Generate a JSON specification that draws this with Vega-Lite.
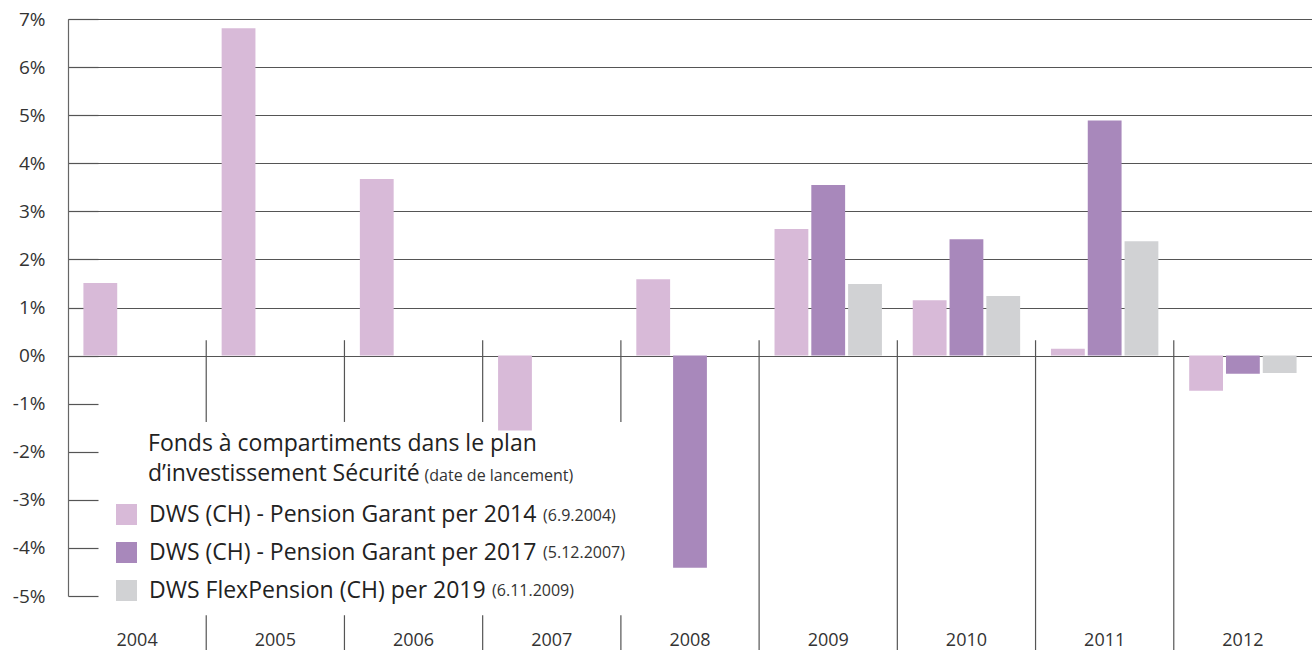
{
  "$schema": "https://vega.github.io/schema/vega-lite/v6.json",
  "width": 1244,
  "height": 577,
  "autosize": "none",
  "padding": {"left": 68, "top": 19, "right": 0, "bottom": 54},
  "background": "white",
  "config": {"view": {"stroke": null}, "font": "Open Sans"},
  "datasets": {
    "returns": [
      {"year": "2004", "series": "DWS (CH) - Pension Garant per 2014", "value": 1.51},
      {"year": "2005", "series": "DWS (CH) - Pension Garant per 2014", "value": 6.81},
      {"year": "2006", "series": "DWS (CH) - Pension Garant per 2014", "value": 3.67},
      {"year": "2007", "series": "DWS (CH) - Pension Garant per 2014", "value": -1.56},
      {"year": "2008", "series": "DWS (CH) - Pension Garant per 2014", "value": 1.59},
      {"year": "2008", "series": "DWS (CH) - Pension Garant per 2017", "value": -4.41},
      {"year": "2009", "series": "DWS (CH) - Pension Garant per 2014", "value": 2.63},
      {"year": "2009", "series": "DWS (CH) - Pension Garant per 2017", "value": 3.55},
      {"year": "2009", "series": "DWS FlexPension (CH) per 2019", "value": 1.49},
      {"year": "2010", "series": "DWS (CH) - Pension Garant per 2014", "value": 1.15},
      {"year": "2010", "series": "DWS (CH) - Pension Garant per 2017", "value": 2.42},
      {"year": "2010", "series": "DWS FlexPension (CH) per 2019", "value": 1.24},
      {"year": "2011", "series": "DWS (CH) - Pension Garant per 2014", "value": 0.14},
      {"year": "2011", "series": "DWS (CH) - Pension Garant per 2017", "value": 4.89},
      {"year": "2011", "series": "DWS FlexPension (CH) per 2019", "value": 2.38},
      {"year": "2012", "series": "DWS (CH) - Pension Garant per 2014", "value": -0.73},
      {"year": "2012", "series": "DWS (CH) - Pension Garant per 2017", "value": -0.38},
      {"year": "2012", "series": "DWS FlexPension (CH) per 2019", "value": -0.36}
    ],
    "bounds": [
      {"year": "2005", "side": "left"},
      {"year": "2006", "side": "left"},
      {"year": "2007", "side": "left"},
      {"year": "2008", "side": "left"},
      {"year": "2009", "side": "right"},
      {"year": "2010", "side": "right"},
      {"year": "2011", "side": "right"},
      {"year": "2012", "side": "right"}
    ],
    "notes": [
      {"id": "t1", "label": "Fonds à compartiments dans le plan"},
      {"id": "t2", "label": "d’investissement Sécurité"},
      {"id": "t3", "label": "(date de lancement)"},
      {"id": "d1", "label": "(6.9.2004)"},
      {"id": "d2", "label": "(5.12.2007)"},
      {"id": "d3", "label": "(6.11.2009)"}
    ]
  },
  "layer": [
    {
      "data": {"name": "returns"},
      "mark": {"type": "bar"},
      "encoding": {
        "x": {
          "field": "year",
          "type": "nominal",
          "scale": {"domain": ["2004","2005","2006","2007","2008","2009","2010","2011","2012"], "paddingInner": 0, "paddingOuter": 0},
          "axis": {"title": null, "labelAngle": 0, "domain": false, "ticks": false, "labelPadding": 35, "labelFontSize": 18, "labelColor": "#333", "labelFont": "Open Sans"}
        },
        "xOffset": {
          "field": "series",
          "type": "nominal",
          "scale": {"domain": ["DWS (CH) - Pension Garant per 2014", "DWS (CH) - Pension Garant per 2017", "DWS FlexPension (CH) per 2019"], "paddingInner": 0.081, "paddingOuter": 0.419}
        },
        "y": {
          "field": "value",
          "type": "quantitative",
          "scale": {"domain": [-5, 7], "nice": false},
          "axis": {
            "title": null,
            "values": [-5, -4, -3, -2, -1, 0, 1, 2, 3, 4, 5, 6, 7],
            "labelExpr": "datum.value + '%'",
            "tickSize": -30,
            "tickColor": "#555",
            "tickWidth": 1.2,
            "domainColor": "#666",
            "domainWidth": 1.2,
            "grid": true,
            "gridColor": "#555",
            "gridWidth": 1.2,
            "gridOpacity": {"condition": {"test": "datum.value < 0", "value": 0}, "value": 1},
            "labelFontSize": 19,
            "labelColor": "#333",
            "labelPadding": 53,
            "labelFont": "Open Sans"
          }
        },
        "color": {
          "field": "series",
          "type": "nominal",
          "scale": {"domain": ["DWS (CH) - Pension Garant per 2014", "DWS (CH) - Pension Garant per 2017", "DWS FlexPension (CH) per 2019"], "range": ["#d8bad8", "#a888bb", "#d1d2d4"]},
          "legend": {
            "title": null,
            "orient": "none",
            "legendX": 47,
            "legendY": 484,
            "padding": 0,
            "symbolType": "square",
            "symbolSize": 441,
            "symbolStrokeWidth": 0,
            "symbolOpacity": 1,
            "labelFontSize": 23,
            "labelFont": "Open Sans",
            "labelColor": "#222",
            "labelOffset": 11,
            "labelLimit": 700,
            "rowPadding": 14
          }
        }
      }
    },
    {
      "data": {"name": "bounds"},
      "transform": [{"filter": "datum.side == 'right'"}],
      "mark": {"type": "rule", "color": "#555", "strokeWidth": 1.2},
      "encoding": {
        "x": {"field": "year", "type": "nominal", "bandPosition": 0},
        "y": {"datum": 0.32},
        "y2": {"datum": -6.3}
      }
    },
    {
      "data": {"name": "bounds"},
      "transform": [{"filter": "datum.side == 'left'"}],
      "mark": {"type": "rule", "color": "#555", "strokeWidth": 1.2},
      "encoding": {
        "x": {"field": "year", "type": "nominal", "bandPosition": 0},
        "y": {"datum": 0.32},
        "y2": {"datum": -1.38}
      }
    },
    {
      "data": {"name": "bounds"},
      "transform": [{"filter": "datum.side == 'left'"}],
      "mark": {"type": "rule", "color": "#555", "strokeWidth": 1.2},
      "encoding": {
        "x": {"field": "year", "type": "nominal", "bandPosition": 0},
        "y": {"datum": -5.4},
        "y2": {"datum": -6.3}
      }
    },
    {
      "mark": {"type": "rule", "color": "#222", "strokeWidth": 2},
      "encoding": {"y": {"datum": 0}}
    },
    {
      "data": {"name": "notes"},
      "transform": [{"filter": "datum.id == 't1'"}],
      "mark": {"type": "text", "align": "left", "baseline": "alphabetic", "fontSize": 23, "font": "Open Sans", "color": "#222"},
      "encoding": {
        "x": {"datum": "2004", "bandPosition": 0.579},
        "y": {"datum": -1.99},
        "text": {"field": "label"}
      }
    },
    {
      "data": {"name": "notes"},
      "transform": [{"filter": "datum.id == 't2'"}],
      "mark": {"type": "text", "align": "left", "baseline": "alphabetic", "fontSize": 23, "font": "Open Sans", "color": "#222"},
      "encoding": {
        "x": {"datum": "2004", "bandPosition": 0.579},
        "y": {"datum": -2.6},
        "text": {"field": "label"}
      }
    },
    {
      "data": {"name": "notes"},
      "transform": [{"filter": "datum.id == 't3'"}],
      "mark": {"type": "text", "align": "left", "baseline": "alphabetic", "fontSize": 16, "font": "Open Sans", "color": "#333"},
      "encoding": {
        "x": {"datum": "2006", "bandPosition": 0.58},
        "y": {"datum": -2.6},
        "text": {"field": "label"}
      }
    },
    {
      "data": {"name": "notes"},
      "transform": [{"filter": "datum.id == 'd1'"}],
      "mark": {"type": "text", "align": "left", "baseline": "alphabetic", "fontSize": 16, "font": "Open Sans", "color": "#333"},
      "encoding": {
        "x": {"datum": "2007", "bandPosition": 0.437},
        "y": {"datum": -3.43},
        "text": {"field": "label"}
      }
    },
    {
      "data": {"name": "notes"},
      "transform": [{"filter": "datum.id == 'd2'"}],
      "mark": {"type": "text", "align": "left", "baseline": "alphabetic", "fontSize": 16, "font": "Open Sans", "color": "#333"},
      "encoding": {
        "x": {"datum": "2007", "bandPosition": 0.437},
        "y": {"datum": -4.21},
        "text": {"field": "label"}
      }
    },
    {
      "data": {"name": "notes"},
      "transform": [{"filter": "datum.id == 'd3'"}],
      "mark": {"type": "text", "align": "left", "baseline": "alphabetic", "fontSize": 16, "font": "Open Sans", "color": "#333"},
      "encoding": {
        "x": {"datum": "2007", "bandPosition": 0.068},
        "y": {"datum": -4.99},
        "text": {"field": "label"}
      }
    }
  ]
}
